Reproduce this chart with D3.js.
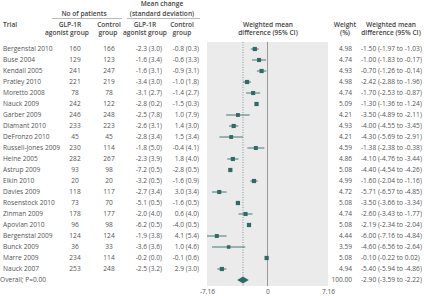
<!DOCTYPE html>
<html>
<head>
<meta charset="utf-8">
<script src="https://cdn.jsdelivr.net/npm/d3@7"></script>
<style>
  body { margin: 0; background: #fff; }
  svg { display: block; font-family: "Open Sans", sans-serif; }
  text { fill: #555; font-size: 6.6px; }
  .hd { fill: #444; font-weight: 600; }
</style>
</head>
<body>
<svg></svg>
<script>
var WIDTH = 424;
var HEIGHT = 296;

var trials = ["Bergenstal 2010", "Buse 2004", "Kendall 2005", "Pratley 2010", "Moretto 2008",
    "Nauck 2009", "Garber 2009", "Diamant 2010", "DeFronzo 2010", "Russell-Jones 2009",
    "Heine 2005", "Astrup 2009", "Elkin 2010", "Davies 2009", "Rosenstock 2010",
    "Zinman 2009", "Apovian 2010", "Bergenstal 2009", "Bunck 2009", "Marre 2009", "Nauck 2007"];
var nGlp = [160, 129, 241, 221, 78, 242, 246, 233, 45, 230, 282, 93, 20, 118, 73, 178, 96, 124, 36, 234, 253];
var nCtrl = [166, 123, 247, 219, 78, 122, 248, 223, 45, 114, 267, 98, 20, 117, 70, 177, 98, 124, 33, 114, 248];
var meanGlp = ["-2.3 (3.0)", "-1.6 (3.4)", "-1.6 (3.1)", "-3.4 (3.0)", "-3.1 (2.7)", "-2.8 (0.2)",
    "-2.5 (7.8)", "-2.6 (3.1)", "-2.8 (3.4)", "-1.8 (5.0)", "-2.3 (3.9)", "-7.2 (0.5)", "-3.2 (0.5)",
    "-2.7 (3.4)", "-5.1 (0.5)", "-2.0 (4.0)", "-6.2 (0.5)", "-1.9 (3.8)", "-3.6 (3.6)", "-0.2 (0.0)", "-2.5 (3.2)"];
var meanCtrl = ["-0.8 (0.3)", "-0.6 (3.3)", "-0.9 (3.1)", "-1.0 (1.8)", "-1.4 (2.7)", "-1.5 (0.3)",
    "1.0 (7.9)", "1.4 (3.0)", "1.5 (3.4)", "-0.4 (4.1)", "1.8 (4.0)", "-2.8 (0.5)", "-1.6 (0.9)",
    "3.0 (3.4)", "-1.6 (0.5)", "0.6 (4.0)", "-4.0 (0.5)", "4.1 (5.4)", "1.0 (4.6)", "-0.1 (0.6)", "2.9 (3.0)"];
var wmd = [-1.50, -1.00, -0.70, -2.42, -1.70, -1.30, -3.50, -4.00, -4.30, -1.38, -4.10, -4.40, -1.60,
    -5.71, -3.50, -2.60, -2.19, -6.00, -4.60, -0.10, -5.40];
var ciLow = [-1.97, -1.83, -1.26, -2.88, -2.53, -1.36, -4.89, -4.55, -5.69, -2.38, -4.76, -4.54, -2.04,
    -6.57, -3.66, -3.43, -2.34, -7.16, -6.56, -0.22, -5.94];
var ciHigh = [-1.03, -0.17, -0.14, -1.96, -0.87, -1.24, -2.11, -3.45, -2.91, -0.38, -3.44, -4.26, -1.16,
    -4.85, -3.34, -1.77, -2.04, -4.84, -2.64, 0.02, -4.86];
var weights = [4.98, 4.74, 4.93, 4.98, 4.74, 5.09, 4.21, 4.93, 4.21, 4.59, 4.86, 5.08, 4.99,
    4.72, 5.08, 4.74, 5.08, 4.44, 3.59, 5.08, 4.94];
var overall = {label: "Overall; P=0.00", est: -2.90, lo: -3.59, hi: -2.22, weight: 100.00};
var axisTicks = [-7.16, 0, 7.16];

var svg = d3.select("svg").attr("width", WIDTH).attr("height", HEIGHT);

var rows = trials.map(function(t, i) {
    return {name: t, ng: nGlp[i], nc: nCtrl[i], mg: meanGlp[i], mc: meanCtrl[i],
        est: wmd[i], lo: ciLow[i], hi: ciHigh[i], w: weights[i]};
});

var y = d3.scalePoint().domain(trials.concat([overall.label])).range([49, 280]);
var x = d3.scaleLinear().domain([-7.16, 7.16]).range([207, 328]);
var size = d3.scaleSqrt().domain([0, 5]).range([0, 4.2]);
var f2 = d3.format(".2f");
// plain hyphen for negatives, like the original
function fmt(v) { return f2(v).replace("\u2212", "-"); }
function ci(d) { return fmt(d.est) + " (" + fmt(d.lo) + " to " + fmt(d.hi) + ")"; }
var teal = "#2f6b66";

// headers
function hdr(tx, xx, yy, anchor) {
    svg.append("text").attr("x", xx).attr("y", yy)
        .attr("text-anchor", anchor || "middle")
        .attr("class", "hd").text(tx);
}
hdr("No of patients", 84, 15.5);
hdr("Mean change", 162, 6);
hdr("(standard deviation)", 162, 15.5);
svg.append("line").attr("x1", 52).attr("x2", 122).attr("y1", 18.5).attr("y2", 18.5)
    .attr("stroke", "#999").attr("stroke-width", 0.7);
svg.append("line").attr("x1", 127).attr("x2", 200).attr("y1", 18.5).attr("y2", 18.5)
    .attr("stroke", "#999").attr("stroke-width", 0.7);
hdr("Trial", 3, 27, "start");
hdr("GLP-1R", 70, 27);
hdr("agonist group", 67, 35);
hdr("Control", 109, 27);
hdr("group", 108, 35);
hdr("GLP-1R", 145, 27);
hdr("agonist group", 145, 35);
hdr("Control", 182, 27);
hdr("group", 182, 35);
hdr("Weighted mean", 268, 27);
hdr("difference (95% CI)", 268, 35);
hdr("Weight", 345, 27);
hdr("(%)", 345, 35);
hdr("Weighted mean", 391, 27);
hdr("difference (95% CI)", 391, 35);

// plot panel
svg.append("rect").attr("x", x(-7.16)).attr("y", 42)
    .attr("width", x(7.16) - x(-7.16)).attr("height", 244).attr("fill", "#ebebeb");
svg.append("line").attr("x1", x(0)).attr("x2", x(0)).attr("y1", 42).attr("y2", 286)
    .attr("stroke", "#999").attr("stroke-width", 1);
svg.append("line").attr("x1", x(overall.est)).attr("x2", x(overall.est))
    .attr("y1", 42).attr("y2", 286)
    .attr("stroke", "#557a77").attr("stroke-width", 0.7).attr("stroke-dasharray", "1,1.5");

var row = svg.selectAll("g.row").data(rows).enter().append("g").attr("class", "row");
function ty(d) { return y(d.name) + 2.4; }

row.append("text").attr("x", 3).attr("y", ty).text(function(d) { return d.name; });
row.append("text").attr("x", 75).attr("text-anchor", "middle").attr("y", ty).text(function(d) { return d.ng; });
row.append("text").attr("x", 109).attr("text-anchor", "middle").attr("y", ty).text(function(d) { return d.nc; });
row.append("text").attr("x", 162).attr("text-anchor", "end").attr("y", ty).text(function(d) { return d.mg; });
row.append("text").attr("x", 199).attr("text-anchor", "end").attr("y", ty).text(function(d) { return d.mc; });
row.append("text").attr("x", 352).attr("text-anchor", "end").attr("y", ty).text(function(d) { return fmt(d.w); });
row.append("text").attr("x", 361).attr("y", ty).text(ci);

row.append("line")
    .attr("x1", function(d) { return x(d.lo); })
    .attr("x2", function(d) { return x(d.hi); })
    .attr("y1", function(d) { return y(d.name); })
    .attr("y2", function(d) { return y(d.name); })
    .attr("stroke", teal).attr("stroke-width", 0.9);
row.append("rect")
    .attr("x", function(d) { return x(d.est) - size(d.w) / 2; })
    .attr("y", function(d) { return y(d.name) - size(d.w) / 2; })
    .attr("width", function(d) { return size(d.w); })
    .attr("height", function(d) { return size(d.w); })
    .attr("fill", teal);

// overall
var oy = y(overall.label);
svg.append("text").attr("x", 0).attr("y", oy + 2.4).text(overall.label);
svg.append("text").attr("x", 352).attr("y", oy + 2.4).attr("text-anchor", "end").text(fmt(overall.weight));
svg.append("text").attr("x", 361).attr("y", oy + 2.4).text(ci(overall));
svg.append("path")
    .attr("d", "M" + x(overall.lo) + "," + oy + "L" + x(overall.est) + "," + (oy - 3.5) +
        "L" + x(overall.hi) + "," + oy + "L" + x(overall.est) + "," + (oy + 3.5) + "Z")
    .attr("fill", teal);

// axis
var axis = svg.append("g").attr("transform", "translate(0,286)")
    .call(d3.axisBottom(x).tickValues(axisTicks).tickSize(0).tickPadding(3)
        .tickFormat(function(d) { return d === 0 ? "0" : fmt(d); }));
axis.select(".domain").remove();
axis.selectAll("text").attr("font-size", "6.6px").attr("font-family", "Open Sans, sans-serif").style("fill", "#555");
</script>
</body>
</html>
